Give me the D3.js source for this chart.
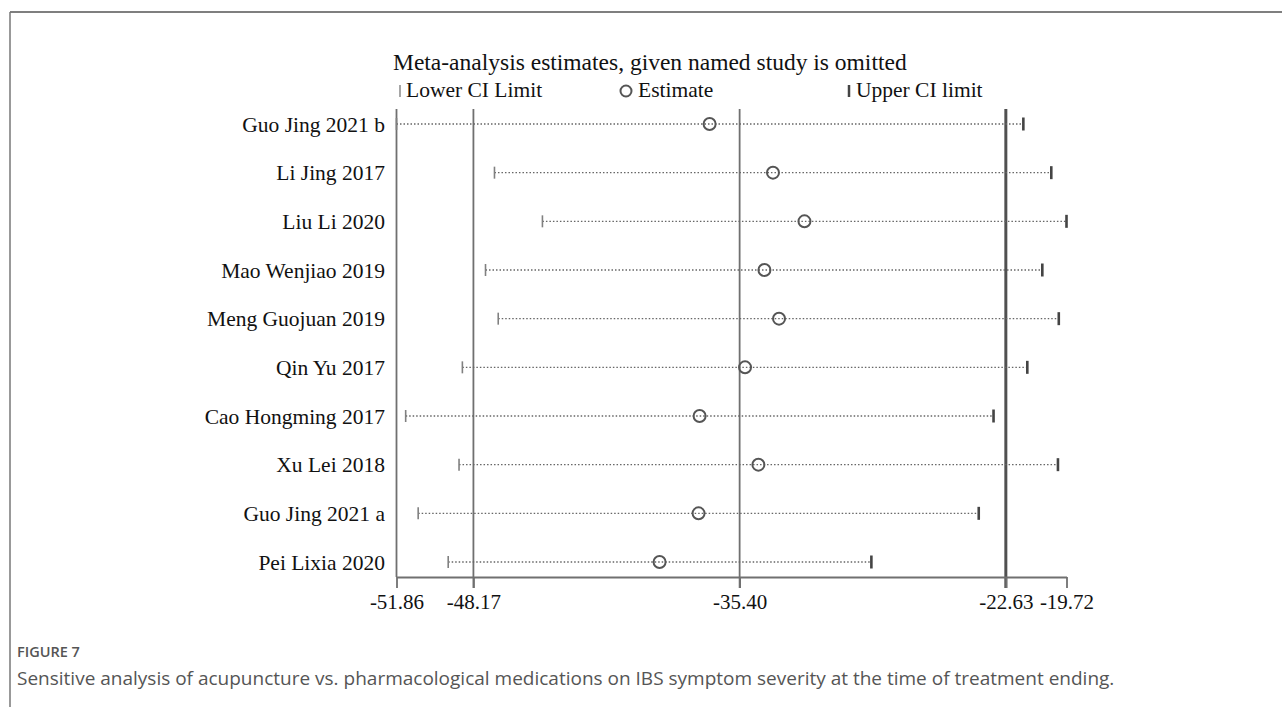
<!DOCTYPE html>
<html>
<head>
<meta charset="utf-8">
<script src="https://cdn.jsdelivr.net/npm/d3@7/dist/d3.min.js"></script>
<style>
  html, body { margin: 0; padding: 0; background: #fff; }
  svg { display: block; }
</style>
</head>
<body>
<svg id="chart" width="1282" height="707"></svg>
<script>
// ---- data ----
const studies = ["Guo Jing 2021 b", "Li Jing 2017", "Liu Li 2020", "Mao Wenjiao 2019", "Meng Guojuan 2019",
                 "Qin Yu 2017", "Cao Hongming 2017", "Xu Lei 2018", "Guo Jing 2021 a", "Pei Lixia 2020"];
const lowerCI  = [-51.86, -47.16, -44.86, -47.59, -46.98, -48.70, -51.42, -48.86, -50.82, -49.38];
const estimate = [-36.84, -33.80, -32.29, -34.21, -33.51, -35.14, -37.32, -34.50, -37.37, -39.24];
const upperCI  = [-21.79, -20.45, -19.72, -20.88, -20.09, -21.60, -23.22, -20.13, -23.93, -29.08];
const tickValues = [-51.86, -48.17, -35.40, -22.63, -19.72];
const refLines = [-48.17, -35.40, -22.63];
const titleText = "Meta-analysis estimates, given named study is omitted";
const legendLabels = ["Lower CI Limit", "Estimate", "Upper CI limit"];
const figLabel = "FIGURE 7";
const captionText = "Sensitive analysis of acupuncture vs. pharmacological medications on IBS symptom severity at the time of treatment ending.";

const rows = studies.map((s, i) => ({ study: s, lo: lowerCI[i], est: estimate[i], hi: upperCI[i] }));

const svg = d3.select("#chart");
const serif = "'Liberation Serif', 'Times New Roman', serif";

// frame
svg.append("line").attr("x1", 10).attr("x2", 1282).attr("y1", 12).attr("y2", 12)
  .attr("stroke", "#555").attr("stroke-width", 1.5);
svg.append("line").attr("x1", 10).attr("x2", 10).attr("y1", 12).attr("y2", 707)
  .attr("stroke", "#777").attr("stroke-width", 1.5);

// scales
const x = d3.scaleLinear().domain([d3.min(tickValues), d3.max(tickValues)]).range([396.5, 1066.5]);
const y = d3.scalePoint().domain(studies).range([124, 562]);
const axisY = 577, topY = 109;

// title & legend
svg.append("text").attr("x", 393).attr("y", 70).attr("font-family", serif).attr("font-size", 23.5)
  .attr("fill", "#111").text(titleText);

const leg = svg.append("g").attr("font-family", serif).attr("font-size", 21.5).attr("fill", "#111");
leg.append("line").attr("x1", 400).attr("x2", 400).attr("y1", 85).attr("y2", 97).attr("stroke", "#888").attr("stroke-width", 1.5);
leg.append("text").attr("x", 406).attr("y", 97).text(legendLabels[0]);
leg.append("circle").attr("cx", 626).attr("cy", 91).attr("r", 5.5).attr("fill", "none").attr("stroke", "#555").attr("stroke-width", 2);
leg.append("text").attr("x", 638).attr("y", 97).text(legendLabels[1]);
leg.append("line").attr("x1", 849).attr("x2", 849).attr("y1", 85).attr("y2", 97).attr("stroke", "#444").attr("stroke-width", 2.5);
leg.append("text").attr("x", 856).attr("y", 97).text(legendLabels[2]);

// reference lines
svg.append("g").selectAll("line").data(refLines).join("line")
  .attr("x1", d => x(d)).attr("x2", d => x(d)).attr("y1", topY).attr("y2", axisY + 11)
  .attr("stroke", (d, i) => i === 2 ? "#505050" : "#707070")
  .attr("stroke-width", (d, i) => i === 2 ? 3 : 1.8);

// left vertical axis line
svg.append("line").attr("x1", x(tickValues[0])).attr("x2", x(tickValues[0]))
  .attr("y1", topY).attr("y2", axisY).attr("stroke", "#707070").attr("stroke-width", 1.8);

// x axis
const xAxis = d3.axisBottom(x).tickValues(tickValues).tickFormat(d => d.toFixed(2))
  .tickSize(11).tickSizeOuter(0);
const gx = svg.append("g").attr("transform", `translate(0,${axisY})`).call(xAxis);
gx.select(".domain").attr("stroke", "#707070").attr("stroke-width", 1.8);
gx.selectAll(".tick line").attr("stroke", "#707070").attr("stroke-width", 1.8);
gx.selectAll(".tick text").attr("font-family", serif).attr("font-size", 21).attr("fill", "#111")
  .attr("dy", null).attr("y", 32);

// study labels
svg.append("g").selectAll("text").data(rows).join("text")
  .attr("x", 385).attr("y", d => y(d.study)).attr("dy", "0.36em")
  .attr("text-anchor", "end").attr("font-family", serif).attr("font-size", 21.5).attr("fill", "#111")
  .text(d => d.study);

// dotted CI lines
const g = svg.append("g");
g.selectAll("line.ci").data(rows).join("line").attr("class", "ci")
  .attr("x1", d => x(d.lo)).attr("x2", d => x(d.hi))
  .attr("y1", d => y(d.study)).attr("y2", d => y(d.study))
  .attr("stroke", "#666").attr("stroke-width", 1.3).attr("stroke-dasharray", "1.5,2");

// lower CI markers
g.selectAll("line.lo").data(rows).join("line").attr("class", "lo")
  .attr("x1", d => x(d.lo)).attr("x2", d => x(d.lo))
  .attr("y1", d => y(d.study) - 6).attr("y2", d => y(d.study) + 6)
  .attr("stroke", "#808080").attr("stroke-width", 1.6);

// upper CI markers
g.selectAll("line.hi").data(rows).join("line").attr("class", "hi")
  .attr("x1", d => x(d.hi)).attr("x2", d => x(d.hi))
  .attr("y1", d => y(d.study) - 6.5).attr("y2", d => y(d.study) + 6.5)
  .attr("stroke", "#444").attr("stroke-width", 2.6);

// estimate circles
g.selectAll("circle").data(rows).join("circle")
  .attr("cx", d => x(d.est)).attr("cy", d => y(d.study)).attr("r", 6)
  .attr("fill", "none").attr("stroke", "#555").attr("stroke-width", 2);

// caption
const sans = "'Open Sans', 'Noto Sans', sans-serif";
svg.append("text").attr("x", 17).attr("y", 657).attr("font-family", sans).attr("font-size", 14.5)
  .attr("font-weight", 600).attr("fill", "#555").text(figLabel);
svg.append("text").attr("x", 17).attr("y", 685).attr("font-family", sans).attr("font-size", 19)
  .attr("fill", "#555").text(captionText);
</script>
</body>
</html>
